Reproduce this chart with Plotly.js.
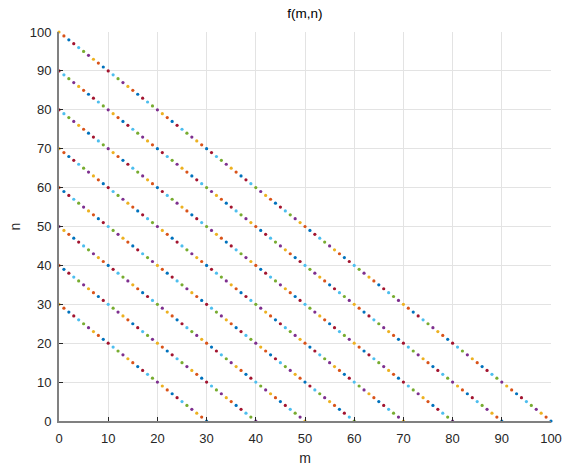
<!DOCTYPE html>
<html>
<head>
<meta charset="utf-8">
<script src="https://cdn.plot.ly/plotly-3.0.1.min.js"></script>
<style>html,body{margin:0;padding:0;background:#fff;}#chart{width:563px;height:466px;}</style>
</head>
<body>
<div id="chart"></div>
<script>
// Line totals: each dotted line holds the integer points with m + n = total
const lineTotals = [30, 40, 50, 60, 70, 80, 90, 100];
// MATLAB default colour order, cycled point by point in plotting order
const colorOrder = ['#0072BD', '#D95319', '#EDB120', '#7E2F8E', '#77AC30', '#4DBEEE', '#A2142F'];
const tickVals = [0, 10, 20, 30, 40, 50, 60, 70, 80, 90, 100];

const mVals = [], nVals = [], cols = [];
let idx = 0;
lineTotals.forEach(function (k) {
  for (let n = 0; n <= k; n++) {
    mVals.push(k - n);
    nVals.push(n);
    cols.push(colorOrder[idx % colorOrder.length]);
    idx++;
  }
});

const trace = {
  x: mVals, y: nVals, type: 'scatter', mode: 'markers',
  marker: {size: 3.2, color: cols, line: {width: 0}},
  cliponaxis: false, hoverinfo: 'skip', showlegend: false
};

const FONT = 'Liberation Sans, Arial, sans-serif';
const axisCommon = {
  range: [0, 100], tickvals: tickVals, ticktext: tickVals.map(String),
  showgrid: true, gridcolor: '#e3e3e3', gridwidth: 1,
  showline: true, linecolor: '#808080', linewidth: 2,
  ticks: 'inside', ticklen: 4, tickcolor: '#262626', tickwidth: 1,
  zeroline: false, mirror: false,
  tickfont: {family: FONT, size: 13, color: '#262626'}
};

const layout = {
  width: 563, height: 466,
  margin: {l: 59, r: 12, t: 32, b: 45, pad: 0},
  paper_bgcolor: '#ffffff', plot_bgcolor: '#ffffff',
  title: {text: 'f(m,n)', x: 0.5417, xanchor: 'center', y: 0.972, yanchor: 'middle',
          font: {family: FONT, size: 13.5, color: '#000000'}},
  xaxis: Object.assign({}, axisCommon, {
    ticklabelstandoff: 4,
    title: {text: 'm', standoff: 9, font: {family: FONT, size: 14, color: '#262626'}}
  }),
  yaxis: Object.assign({}, axisCommon, {
    ticklabelstandoff: 3,
    title: {text: 'n', standoff: 6, font: {family: FONT, size: 14, color: '#262626'}}
  })
};

Plotly.newPlot('chart', [trace], layout, {displayModeBar: false, staticPlot: true});
</script>
</body>
</html>
